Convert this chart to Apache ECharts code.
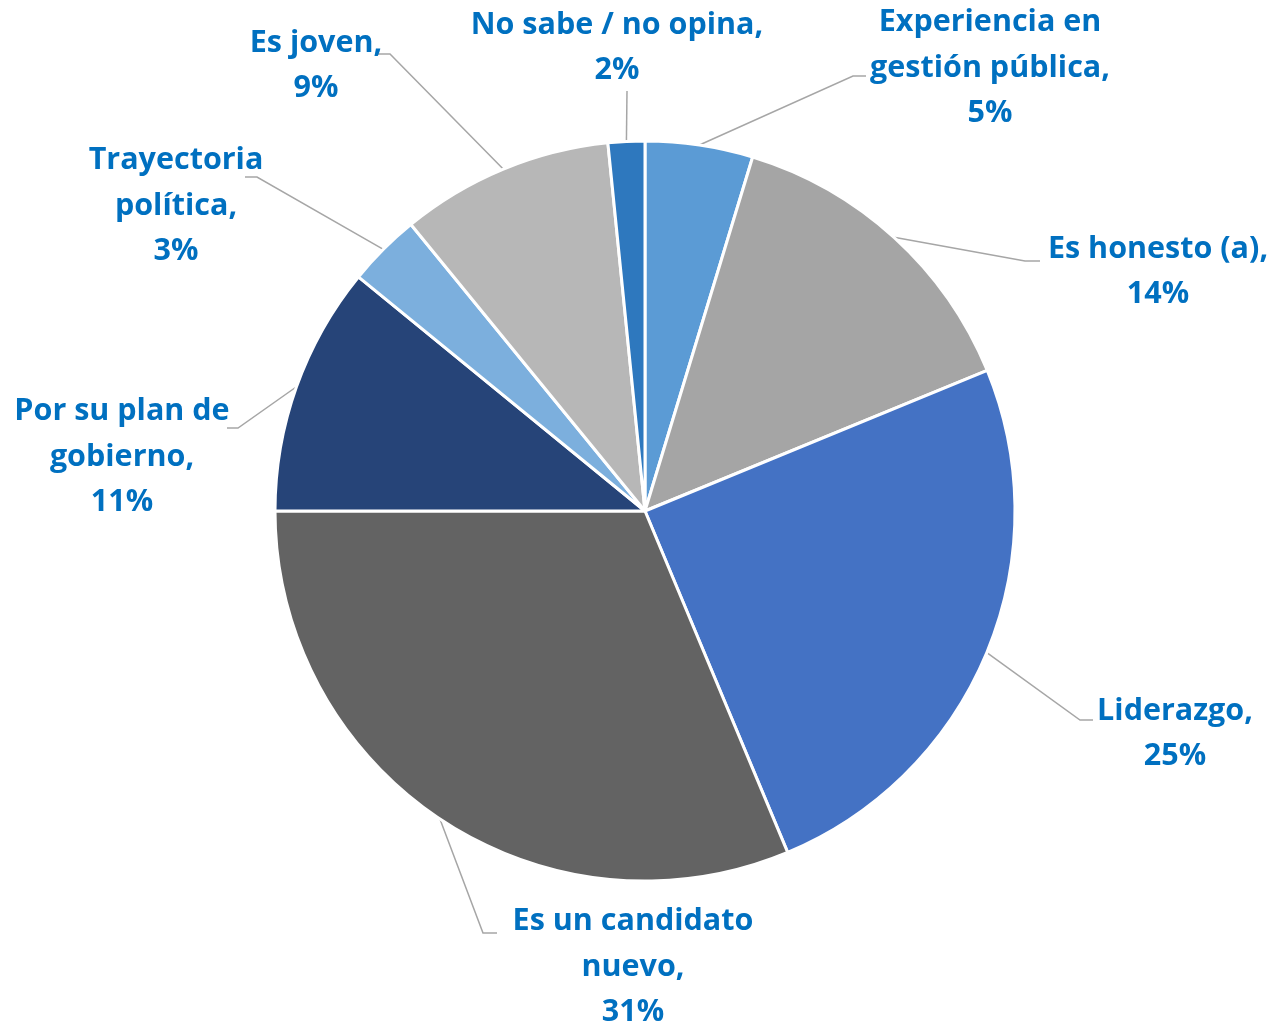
<!DOCTYPE html>
<html>
<head>
<meta charset="utf-8">
<script src="https://cdn.jsdelivr.net/npm/echarts@6/dist/echarts.min.js"></script>
<style>
html,body{margin:0;padding:0;background:#fff;}
#chart{width:1276px;height:1027px;}
</style>
</head>
<body>
<div id="chart"></div>
<script>
// ---- data ----
var categories = [
  "Experiencia en\ngestión pública",
  "Es honesto (a)",
  "Liderazgo",
  "Es un candidato\nnuevo",
  "Por su plan de\ngobierno",
  "Trayectoria\npolítica",
  "Es joven",
  "No sabe / no opina"
];
var values = [4.7, 14.1, 24.9, 31.3, 10.9, 3.2, 9.3, 1.6];
var colors = ["#5B9BD5", "#A5A5A5", "#4472C4", "#636363", "#264478", "#7CAFDD", "#B7B7B7", "#2E78BE"];

// ---- label layout (positions of label blocks and leader-line ends, px) ----
var labelCenter = [[990, 68], [1158, 272], [1175, 734], [633, 967], [122, 457], [176, 206], [316, 66], [617, 48]];
var lineElbow   = [[853, 76], [1025, 261], [1080, 720], [483, 933], [238, 428], [257, 177], [390, 54], [627, 91]];
var lineEnd     = [[866, 76], [1040, 261], [1093, 720], [497, 933], [227, 428], [245, 177], [378, 54], [627, 91]];

var chart = echarts.init(document.getElementById('chart'));
var data = categories.map(function (c, i) {
  return { name: c, value: values[i], itemStyle: { color: colors[i] } };
});
chart.setOption({
  animation: false,
  backgroundColor: '#ffffff',
  series: [{
    type: 'pie',
    center: [645, 511],
    radius: 370,
    startAngle: 90,
    clockwise: true,
    avoidLabelOverlap: false,
    data: data,
    itemStyle: { borderColor: '#ffffff', borderWidth: 3 },
    label: {
      show: true,
      position: 'outside',
      formatter: function (p) { return p.name + ',\n' + Math.round(p.value) + '%'; },
      color: '#0070C0',
      fontFamily: 'Open Sans',
      fontWeight: 'bold',
      fontSize: 30.5,
      lineHeight: 45.5
    },
    labelLine: {
      show: true,
      length: 20,
      length2: 10,
      lineStyle: { color: '#A6A6A6', width: 1.5 }
    },
    labelLayout: function (params) {
      var i = params.dataIndex;
      var p0 = params.labelLinePoints ? params.labelLinePoints[0] : lineElbow[i];
      return {
        x: labelCenter[i][0],
        y: labelCenter[i][1],
        align: 'center',
        verticalAlign: 'middle',
        labelLinePoints: [p0, lineElbow[i], lineEnd[i]]
      };
    }
  }]
});
</script>
</body>
</html>
